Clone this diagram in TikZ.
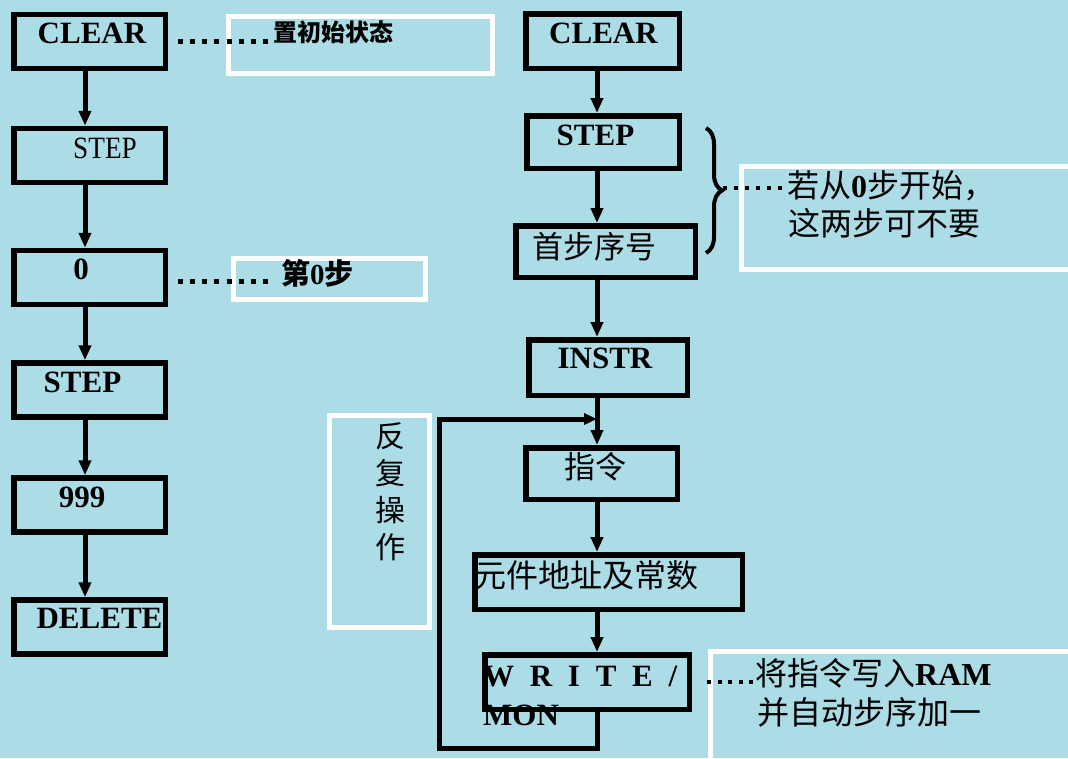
\documentclass[tikz,border=0pt]{standalone}
\usepackage{fontspec}
\setmainfont{Liberation Serif}
\newfontfamily\cjk{Noto Sans CJK SC}
\usetikzlibrary{arrows.meta,decorations.pathreplacing,calc}
\definecolor{bg}{RGB}{172,220,230}
\newcommand{\tnum}[1]{{\rmfamily\fontspec{Liberation Serif}\bfseries #1}}
\begin{document}
\begin{tikzpicture}[x=1pt,y=-1pt,
  box/.style={draw=black,line width=5.5pt,inner sep=0pt},
  conn/.style={draw=black,line width=5pt,-{Triangle[length=15pt,width=12pt]}},
  frame/.style={draw=white,line width=4.5pt},
  lbl/.style={inner sep=0pt,font=\fontsize{31}{37}\selectfont\bfseries},
  lblr/.style={inner sep=0pt,font=\fontsize{31}{37}\selectfont},
  cjkl/.style={inner sep=0pt,font=\fontsize{31}{37}\selectfont\cjk},
  note/.style={inner sep=0pt,font=\fontsize{32}{38}\selectfont\cjk},
  leaderA/.style={draw=black,line width=5pt,dash pattern=on 5pt off 7.14pt},
  leaderB/.style={draw=black,line width=4pt,dash pattern=on 4pt off 7pt},
  leaderC/.style={draw=black,line width=4pt,dash pattern=on 4pt off 6.5pt},
  bracestyle/.style={draw=black,line width=4pt,decorate,decoration={brace,amplitude=16pt,aspect=0.5}}
]
\useasboundingbox (0,0) rectangle (1068,758);
\fill[bg] (0,0) rectangle (1068,758);

% white annotation frames
\draw[frame] (228.5,16.5) rectangle (492.5,73.5);
\draw[frame] (233.5,258.5) rectangle (425.5,299.5);
\draw[frame] (741.5,166.5) rectangle (1080,269.5);
\draw[frame] (710.5,651.5) rectangle (1080,770);
\draw[frame] (329.5,415.5) rectangle (429.5,627.5);

% column axes
\coordinate (lcol) at (85,0);
\coordinate (rcol) at (597,0);

% left column boxes
\node[box,minimum width=151.5pt,minimum height=54pt] (clr1) at (89.5,41.5) {};
\node[box,minimum width=151.5pt,minimum height=54pt] (stp1) at (89.5,155.5) {};
\node[box,minimum width=151.5pt,minimum height=54pt] (zero) at (89.5,277.5) {};
\node[box,minimum width=151.5pt,minimum height=54pt] (stp2) at (89.5,390) {};
\node[box,minimum width=151.5pt,minimum height=54pt] (n999) at (89.5,505) {};
\node[box,minimum width=151.5pt,minimum height=54pt] (del) at (89.5,627) {};

\node[lbl] (tclr1) at (92,33) {CLEAR};
\node[lblr] (tstp1) at (105,148) {\scalebox{0.88}[1]{STEP}};
\node[lbl] (tzero) at (81,269) {0};
\node[lbl] (tstp2) at (82.5,382) {STEP};
\node[lbl] (t999) at (82,497) {999};
\node[lbl] (tdel) at (99.5,618) {DELETE};

\draw[conn] (clr1.south -| lcol) -- (stp1.north -| lcol);
\draw[conn] (stp1.south -| lcol) -- (zero.north -| lcol);
\draw[conn] (zero.south -| lcol) -- (stp2.north -| lcol);
\draw[conn] (stp2.south -| lcol) -- (n999.north -| lcol);
\draw[conn] (n999.south -| lcol) -- (del.north -| lcol);

% left annotations
\draw[leaderA] ($(clr1.east)+(10,-0.5)$) -- ++(90,0);
\node[inner sep=0pt,font=\fontsize{24}{28}\selectfont\cjk\bfseries] (n1) at (333.5,32) {置初始状态};
\draw[leaderA] ($(zero.east)+(10,4)$) -- ++(90,0);
\node[inner sep=0pt,font=\fontsize{29}{34}\selectfont,anchor=base west] (n2) at (281,284) {{\cjk\bfseries 第}\tnum{0}{\cjk\bfseries 步}};

% right column boxes
\node[box,minimum width=153.5pt,minimum height=54.5pt] (clr2) at (602.5,41) {};
\node[box,minimum width=152.5pt,minimum height=52.5pt] (stp3) at (603,142) {};
\node[box,minimum width=179.5pt,minimum height=51.5pt] (first) at (605.5,251.5) {};
\node[box,minimum width=158.5pt,minimum height=55.5pt] (instr) at (608,367.5) {};
\node[box,minimum width=151.5pt,minimum height=51.5pt] (cmd) at (601.5,473.5) {};
\node[box,minimum width=267.5pt,minimum height=54.5pt] (elem) at (608.5,582) {};
\node[box,minimum width=204.5pt,minimum height=54.5pt] (write) at (587,682) {};

\node[lbl] (tclr2) at (603.5,33) {CLEAR};
\node[lbl] (tstp3) at (595.5,135) {STEP};
\node[cjkl] (tfirst) at (594,247) {首步序号};
\node[lbl] (tinstr) at (605,358) {INSTR};
\node[cjkl] (tcmd) at (595,467) {指令};
\node[inner sep=0pt,font=\fontsize{32}{38}\selectfont\cjk] (telem) at (586,575) {元件地址及常数};
\node[lbl,anchor=west] (twrite) at (483,677) {\makebox[194pt][s]{W\hfill R\hfill I\hfill T\hfill E\hfill /}};
\node[lbl,anchor=west] (tmon) at (483,715) {MON};

\draw[conn] (clr2.south -| rcol) -- (stp3.north -| rcol);
\draw[conn] (stp3.south -| rcol) -- (first.north -| rcol);
\draw[conn] (first.south -| rcol) -- (instr.north -| rcol);
\draw[conn] (instr.south -| rcol) -- (cmd.north -| rcol);
\draw[conn] (cmd.south -| rcol) -- (elem.north -| rcol);
\draw[conn] (elem.south -| rcol) -- (write.north -| rcol);

% loop
\coordinate (loopin) at (597,419);
\coordinate (loopbl) at (439,748);
\draw[line width=5pt,-{Triangle[length=13pt,width=11pt]}] (write.south -| loopin) |- (loopbl) |- (loopin);
\node[inner sep=0pt,align=center,font=\fontsize{30}{37}\selectfont\cjk] (rep) at (390,492) {反\\复\\操\\作};

% brace and right annotations
\draw[bracestyle] (706,128) -- (706,253);
\coordinate (bracetip) at (723,188);
\draw[leaderB] (bracetip) -- ++(59,0);
\node[note,anchor=base west] (n3a) at (787,197) {若从\tnum{0}步开始，};
\node[note,anchor=base west] (n3b) at (788,235) {这两步可不要};

\draw[leaderC] ($(write.east)+(15,0)$) -- ++(46,0);
\node[note,anchor=base west] (n4a) at (755,685) {将指令写入\tnum{RAM}};
\node[note,anchor=base west] (n4b) at (757,724) {并自动步序加一};
\end{tikzpicture}
\end{document}
